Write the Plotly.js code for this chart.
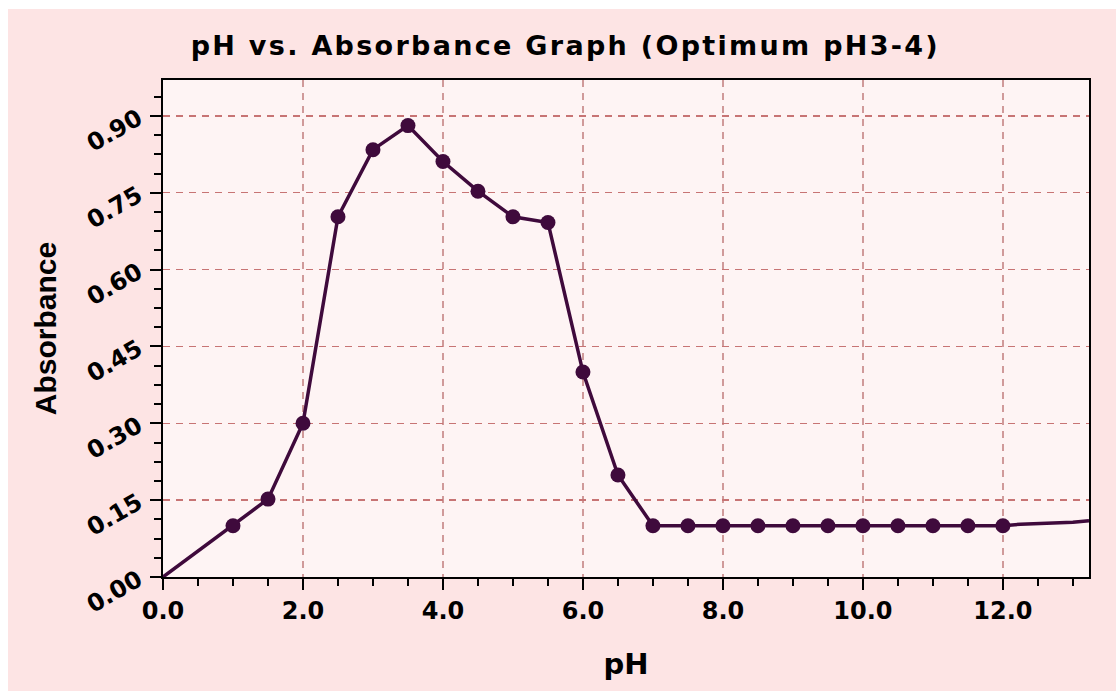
<!DOCTYPE html>
<html>
<head>
<meta charset="utf-8">
<script src="https://cdn.plot.ly/plotly-3.0.1.min.js"></script>
<style>
  html, body { margin: 0; padding: 0; background: #ffffff; }
  #chart { position: absolute; left: 8px; top: 9px; width: 1108px; height: 682px; }
  #chart .gtitle { letter-spacing: 2.3px; }
</style>
</head>
<body>
<div id="chart"></div>
<script>
// Measured points (pH, absorbance)
var pH = [0.0, 1.0, 1.5, 2.0, 2.5, 3.0, 3.5, 4.0, 4.5, 5.0, 5.5, 6.0, 6.5, 7.0, 7.5, 8.0, 8.5, 9.0, 9.5, 10.0, 10.5, 11.0, 11.5, 12.0];
var absorbance = [0.0, 0.10, 0.152, 0.30, 0.703, 0.834, 0.881, 0.811, 0.753, 0.703, 0.692, 0.40, 0.199, 0.10, 0.10, 0.10, 0.10, 0.10, 0.10, 0.10, 0.10, 0.10, 0.10, 0.10];
// Unmarked tail of the curve
var tailPH = [12.25, 12.7, 13.0, 13.23];
var tailAbs = [0.103, 0.105, 0.107, 0.110];

var xTickVals = [0, 2, 4, 6, 8, 10, 12];
var yTickVals = [0, 0.15, 0.30, 0.45, 0.60, 0.75, 0.90];

var lineColor = '#3f0a3c';
var wideFont = 'DejaVu Sans, Verdana, sans-serif';

var traces = [
  {
    x: pH.concat(tailPH),
    y: absorbance.concat(tailAbs),
    mode: 'lines',
    line: { color: lineColor, width: 3.5 },
    hoverinfo: 'skip'
  },
  {
    x: pH.slice(1),
    y: absorbance.slice(1),
    mode: 'markers',
    marker: { color: lineColor, size: 15 }
  }
];

var tickFont = { family: wideFont, size: 24, color: '#000000', weight: 'bold' };

var layout = {
  width: 1108,
  height: 682,
  paper_bgcolor: '#fde4e4',
  plot_bgcolor: '#fef4f4',
  showlegend: false,
  margin: { l: 155, r: 27, t: 71, b: 114 },
  title: {
    text: '<b>pH vs. Absorbance Graph (Optimum pH3-4)</b>',
    font: { family: wideFont, size: 27, color: '#000000' },
    x: 0.503, xanchor: 'center',
    y: 0.947, yanchor: 'middle', yref: 'container'
  },
  xaxis: {
    range: [0, 13.23],
    tickvals: xTickVals,
    tickformat: '.1f',
    ticks: 'outside', ticklen: 11, tickwidth: 2, tickcolor: '#000000',
    minor: { dtick: 0.5, ticks: 'outside', ticklen: 7, tickwidth: 2, tickcolor: '#000000', showgrid: false },
    showline: true, linecolor: '#000000', linewidth: 2, mirror: true,
    showgrid: true, gridcolor: '#d09a9a', gridwidth: 1.3, griddash: '7px,6px',
    zeroline: false,
    tickfont: tickFont,
    title: { text: '<b>pH</b>', font: { family: wideFont, size: 29, color: '#000000' }, standoff: 30 }
  },
  yaxis: {
    range: [0, 0.97],
    tickvals: yTickVals,
    tickformat: '.2f',
    tickangle: -30,
    ticklabelstandoff: 7,
    ticks: 'outside', ticklen: 11, tickwidth: 2, tickcolor: '#000000',
    minor: { dtick: 0.0375, ticks: 'outside', ticklen: 7, tickwidth: 2, tickcolor: '#000000', showgrid: false },
    showline: true, linecolor: '#000000', linewidth: 2, mirror: true,
    showgrid: true, gridcolor: '#c77474', gridwidth: 1.3, griddash: '7px,6px',
    zeroline: false,
    tickfont: tickFont,
    title: { text: '<b>Absorbance</b>', font: { family: 'Liberation Sans, Arial, sans-serif', size: 30, color: '#000000' }, standoff: 16 }
  }
};

Plotly.newPlot('chart', traces, layout, { displayModeBar: false, staticPlot: true });
</script>
</body>
</html>
